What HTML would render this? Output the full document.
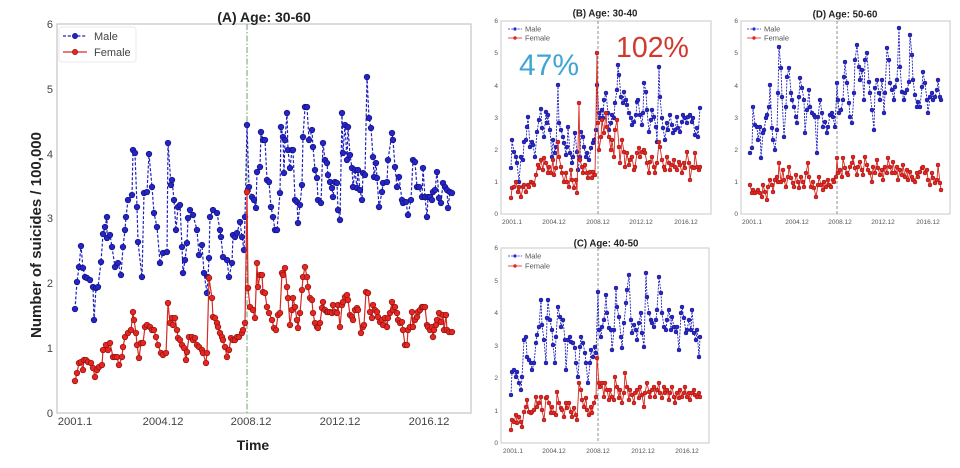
<!DOCTYPE html>
<html><head><meta charset="utf-8"><style>
html,body{margin:0;padding:0;background:#fff;}
svg{display:block;font-family:"Liberation Sans",sans-serif;}
</style></head><body>
<svg width="960" height="468" viewBox="0 0 960 468" xmlns="http://www.w3.org/2000/svg">
<defs>
<marker id="mb" markerUnits="userSpaceOnUse" markerWidth="8" markerHeight="8" refX="4" refY="4"><circle cx="4" cy="4" r="2.8" fill="#2424c8" stroke="#12127a" stroke-width="0.7"/></marker>
<marker id="mr" markerUnits="userSpaceOnUse" markerWidth="8" markerHeight="8" refX="4" refY="4"><circle cx="4" cy="4" r="2.8" fill="#e8261f" stroke="#8a1414" stroke-width="0.7"/></marker>
<marker id="sb" markerUnits="userSpaceOnUse" markerWidth="6" markerHeight="6" refX="3" refY="3"><circle cx="3" cy="3" r="2.0" fill="#2828cc" stroke="#14147a" stroke-width="0.5"/></marker>
<marker id="sr" markerUnits="userSpaceOnUse" markerWidth="6" markerHeight="6" refX="3" refY="3"><circle cx="3" cy="3" r="2.0" fill="#e8261f" stroke="#8a1414" stroke-width="0.5"/></marker>
</defs>
<rect width="960" height="468" fill="#fff"/>

<!-- ============ MAIN (A) ============ -->
<rect x="57" y="24" width="414" height="389" fill="#fff" stroke="#c4c4c4" stroke-width="1.2"/>
<text x="264" y="22" font-size="14" font-weight="bold" text-anchor="middle" fill="#222">(A) Age: 30-60</text>
<g font-size="11" fill="#444" text-anchor="end">
<text x="53" y="417">0</text><text x="53" y="352">1</text><text x="53" y="287">2</text><text x="53" y="222">3</text><text x="53" y="158">4</text><text x="53" y="93">5</text><text x="53" y="28">6</text>
</g>
<g font-size="11.3" fill="#444" text-anchor="middle">
<text x="75" y="425">2001.1</text><text x="163" y="425">2004.12</text><text x="251" y="425">2008.12</text><text x="340" y="425">2012.12</text><text x="429" y="425">2016.12</text>
</g>
<text x="253" y="450" font-size="14" font-weight="bold" text-anchor="middle" fill="#222">Time</text>
<text transform="translate(41,235) rotate(-90)" font-size="15" font-weight="bold" text-anchor="middle" fill="#222">Number of suicides / 100,000</text>
<line x1="247" y1="24" x2="247" y2="413" stroke="#6f9c6f" stroke-width="1" stroke-dasharray="6,2,1.5,2"/>

<polyline fill="none" stroke="#2020c0" stroke-width="1.2" stroke-dasharray="3,1.8" marker-start="url(#mb)" marker-mid="url(#mb)" marker-end="url(#mb)" points="75,309 77,282 79,267 81,246 83,268 85,277 87,278 90,280 93,287 94,320 96,288 98,287 101,262 103,234 105,227 107,217 107,238 110,235 112,247 115,267 118,263 121,275 123,247 125,230 126,217 128,200 132,195 133,150 135,153 137,207 138,242 142,277 144,193 147,192 149,154 152,187 154,213 157,227 160,263 163,253 167,252 168,143 171,185 172,180 174,200 176,230 178,207 180,205 182,247 183,273 185,260 187,243 188,218 190,210 193,215 197,230 199,255 202,245 204,273 207,293 208,277 209,258 210,217 213,210 217,213 220,230 221,237 223,257 227,260 229,277 232,263 233,235 235,237 237,233 240,222 242,237 244,250 245,217 247,125 249,187 252,197 254,200 256,208 257,172 260,167 261,132 263,140 265,140 267,180 269,182 271,207 273,217 275,230 277,230 280,193 281,127 283,137 284,173 285,140 287,113 288,150 290,168 292,150 293,150 295,200 297,202 298,223 300,205 302,185 303,137 305,107 307,107 309,140 312,130 313,147 315,170 317,178 318,200 321,203 323,143 325,160 327,163 328,175 330,182 332,188 333,197 335,182 337,183 338,210 340,220 342,113 343,153 345,125 347,160 348,127 350,155 352,168 353,187 355,170 357,188 358,170 360,190 362,200 363,173 365,175 367,77 369,118 371,128 373,157 374,177 376,163 377,178 379,207 382,192 383,183 387,182 388,160 392,133 393,140 395,167 397,187 399,177 402,200 403,203 406,202 408,215 411,200 413,160 415,162 417,187 419,187 422,197 423,168 425,197 427,217 428,197 430,197 432,200 433,192 435,190 437,172 439,198 441,203 443,183 445,187 447,190 448,208 450,192 452,193"/>

<polyline fill="none" stroke="#d62a22" stroke-width="1.2" marker-start="url(#mr)" marker-mid="url(#mr)" marker-end="url(#mr)" points="75,381 77,373 79,363 81,362 83,370 84,360 86,360 88,362 91,363 93,368 95,377 97,370 99,367 102,365 103,350 106,345 108,350 110,343 113,357 115,357 117,357 119,365 122,357 123,347 125,337 128,333 131,330 133,312 134,320 136,333 137,345 139,358 141,343 143,343 145,327 147,325 150,327 152,330 154,330 156,337 158,345 161,353 163,355 166,353 168,303 170,323 172,318 173,325 175,318 177,330 178,338 180,340 182,345 184,348 186,360 187,352 189,337 192,337 193,340 195,338 197,345 199,347 202,350 203,353 206,363 207,353 209,278 212,298 213,317 215,318 217,323 218,327 220,333 222,337 223,340 225,347 227,357 229,350 231,338 233,340 235,340 237,337 239,337 242,333 243,330 245,323 247,192 248,288 250,307 253,310 255,318 257,263 258,287 260,275 262,275 263,292 265,293 267,307 269,313 272,320 274,328 276,330 278,315 280,313 282,273 283,275 285,268 287,287 288,298 290,325 292,310 293,298 295,307 297,320 298,328 300,313 302,290 303,277 305,267 307,277 308,287 310,298 312,300 313,313 315,323 317,327 318,328 320,323 322,308 323,302 325,310 327,312 328,312 330,312 332,313 333,305 335,312 337,313 338,305 340,327 342,305 343,302 345,297 347,295 348,300 350,315 352,317 353,320 355,310 357,308 358,310 361,333 363,327 364,325 366,292 368,293 370,312 372,318 373,305 375,310 377,312 378,317 380,322 382,320 383,325 385,318 387,327 388,318 390,313 392,302 393,310 395,307 397,313 398,320 400,323 402,322 403,330 405,345 407,345 408,330 410,327 412,312 413,327 415,320 417,317 418,312 420,310 422,307 423,307 425,307 427,325 428,327 430,330 432,327 433,337 434,330 436,325 437,320 439,313 441,322 443,315 444,330 446,315 447,330 449,332 452,332"/>

<rect x="59" y="27" width="77" height="35" rx="3" fill="#fff" fill-opacity="0.85" stroke="#eaeaea" stroke-width="1"/>
<line x1="63" y1="36" x2="87" y2="36" stroke="#2020c0" stroke-width="1.2" stroke-dasharray="3,1.8"/>
<circle cx="75" cy="36" r="2.6" fill="#2424c8" stroke="#12127a" stroke-width="0.7"/>
<line x1="63" y1="52" x2="87" y2="52" stroke="#d62a22" stroke-width="1.2"/>
<circle cx="75" cy="52" r="2.6" fill="#e8261f" stroke="#8a1414" stroke-width="0.7"/>
<text x="94" y="40" font-size="11" fill="#444">Male</text>
<text x="94" y="56" font-size="11" fill="#444">Female</text>

<!-- ============ (B) ============ -->
<rect x="501" y="21" width="210" height="193" fill="#fff" stroke="#c8c8c8" stroke-width="1"/>
<text x="605" y="16.5" font-size="9.7" font-weight="bold" text-anchor="middle" fill="#222">(B) Age: 30-40</text>
<g font-size="6.5" fill="#555" text-anchor="end">
<text x="498" y="216">0</text><text x="498" y="184">1</text><text x="498" y="152">2</text><text x="498" y="120">3</text><text x="498" y="88">4</text><text x="498" y="55">5</text><text x="498" y="23">6</text>
</g>
<g font-size="6.5" fill="#555" text-anchor="middle">
<text x="512" y="224">2001.1</text><text x="554" y="224">2004.12</text><text x="598" y="224">2008.12</text><text x="641" y="224">2012.12</text><text x="686" y="224">2016.12</text>
</g>
<line x1="598" y1="21" x2="598" y2="214" stroke="#777" stroke-width="0.8" stroke-dasharray="3,2"/>
<polyline fill="none" stroke="#2020c0" stroke-width="0.9" stroke-dasharray="2,1.2" marker-start="url(#sb)" marker-mid="url(#sb)" marker-end="url(#sb)" points="511,168 512,140 514,152 516,157 517,163 519,182 521,157 523,160 524,142 526,140 527,127 528,117 530,147 532,142 533,145 535,157 537,132 539,120 541,109 542,128 544,137 546,112 547,123 548,115 550,130 552,157 553,140 555,153 556,147 558,85 559,123 561,130 563,137 564,143 566,155 567,147 568,127 570,153 572,163 573,157 575,133 577,152 578,170 580,157 581,132 583,137 584,147 586,157 587,153 589,160 591,148 593,143 594,140 596,130 597,85 599,113 600,118 602,110 603,118 604,100 606,93 608,113 609,130 611,123 612,115 614,118 615,103 617,90 618,65 619,75 621,97 623,103 624,92 626,100 627,105 629,113 631,118 632,125 634,122 636,115 637,102 638,100 640,115 642,125 643,113 644,83 646,92 647,110 649,132 651,120 652,110 654,117 656,127 657,142 659,67 660,97 662,118 663,128 665,140 667,123 668,130 670,115 672,125 673,133 675,130 677,117 678,128 680,132 682,122 683,115 685,118 687,123 688,117 690,115 692,122 693,118 695,135 697,128 698,137 700,108"/>
<polyline fill="none" stroke="#d62a22" stroke-width="0.9" marker-start="url(#sr)" marker-mid="url(#sr)" marker-end="url(#sr)" points="511,198 512,188 514,187 516,182 518,192 519,187 521,197 523,187 524,185 526,192 528,185 529,187 531,182 533,183 534,185 536,175 538,165 539,168 541,160 543,170 544,158 546,163 548,173 549,167 551,173 553,160 554,175 556,168 558,142 559,157 561,167 562,173 564,182 566,173 567,182 569,187 571,170 572,180 574,188 576,180 577,193 579,103 580,160 582,167 583,173 585,165 587,173 588,178 590,172 592,178 593,172 595,175 597,53 598,123 599,150 601,137 602,120 604,133 606,113 607,127 609,137 611,150 612,140 614,157 615,130 617,120 619,147 620,163 622,140 624,152 625,167 627,153 629,165 630,160 632,157 634,170 635,167 637,153 639,148 640,157 642,152 644,150 645,153 647,163 649,173 650,162 652,157 654,167 655,173 657,163 659,142 660,147 662,160 664,167 665,170 667,157 669,163 670,170 672,165 674,160 675,167 677,170 679,162 680,165 682,173 684,163 685,168 687,152 689,163 690,180 692,167 694,168 695,153 697,167 699,170 700,167"/>
<line x1="508" y1="29" x2="522" y2="29" stroke="#2020c0" stroke-width="0.8" stroke-dasharray="2,1.2"/>
<circle cx="515" cy="29" r="1.6" fill="#2828cc"/>
<line x1="508" y1="38" x2="522" y2="38" stroke="#d62a22" stroke-width="0.8"/>
<circle cx="515" cy="38" r="1.7" fill="#e8261f"/>
<text x="525" y="31.5" font-size="7.5" fill="#555">Male</text>
<text x="525" y="40.5" font-size="7.5" fill="#555">Female</text>
<text x="519" y="75" font-size="30" fill="#41a4d6">47%</text>
<text x="616" y="57" font-size="28.5" fill="#cf3a2c">102%</text>

<!-- ============ (D) ============ -->
<rect x="741" y="21" width="209" height="193" fill="#fff" stroke="#c8c8c8" stroke-width="1"/>
<text x="845" y="17.5" font-size="9.7" font-weight="bold" text-anchor="middle" fill="#222">(D) Age: 50-60</text>
<g font-size="6.5" fill="#555" text-anchor="end">
<text x="738" y="216">0</text><text x="738" y="184">1</text><text x="738" y="152">2</text><text x="738" y="120">3</text><text x="738" y="88">4</text><text x="738" y="55">5</text><text x="738" y="23">6</text>
</g>
<g font-size="6.5" fill="#555" text-anchor="middle">
<text x="752" y="224">2001.1</text><text x="797" y="224">2004.12</text><text x="840" y="224">2008.12</text><text x="883" y="224">2012.12</text><text x="928" y="224">2016.12</text>
</g>
<line x1="837" y1="21" x2="837" y2="214" stroke="#777" stroke-width="0.8" stroke-dasharray="3,2"/>
<polyline fill="none" stroke="#2020c0" stroke-width="0.9" stroke-dasharray="2,1.2" marker-start="url(#sb)" marker-mid="url(#sb)" marker-end="url(#sb)" points="750,153 752,148 753,107 755,125 757,127 758,140 760,127 761,158 763,133 764,130 766,118 767,115 769,107 770,85 772,128 773,140 775,150 777,130 778,93 779,47 781,68 782,97 784,137 786,107 787,77 789,68 791,93 792,100 794,107 796,117 797,123 799,97 800,78 802,88 804,100 805,133 807,110 809,90 810,107 812,113 814,115 815,117 817,153 818,117 820,100 822,113 823,127 825,122 827,133 828,127 830,115 832,113 833,117 835,127 837,83 838,100 839,113 841,110 843,100 844,77 845,62 847,83 849,103 850,117 852,123 854,93 855,60 857,45 859,67 860,80 862,70 864,100 865,60 867,53 869,82 870,93 872,110 874,130 875,88 877,80 879,93 880,100 882,80 884,113 885,93 887,48 889,60 890,83 892,90 894,100 895,87 897,80 899,28 900,67 902,92 904,100 905,93 907,90 909,82 910,35 912,55 913,80 915,95 917,107 918,102 920,107 922,87 923,72 925,83 927,100 928,113 930,97 932,93 933,100 935,97 937,90 938,80 940,97 941,100"/>
<polyline fill="none" stroke="#d62a22" stroke-width="0.9" marker-start="url(#sr)" marker-mid="url(#sr)" marker-end="url(#sr)" points="750,185 752,193 753,190 755,193 757,192 758,190 760,193 762,197 763,185 765,192 767,200 768,187 770,180 772,185 773,192 775,180 777,177 778,182 779,163 781,182 783,170 784,180 786,187 788,177 789,167 791,178 793,183 794,187 796,175 798,182 799,188 801,177 803,182 804,187 806,173 808,163 809,177 811,187 813,182 814,188 816,197 818,185 819,177 821,185 823,190 824,182 826,187 828,180 829,185 831,187 833,180 834,182 836,177 837,158 838,173 840,170 842,177 843,158 845,168 847,173 848,175 850,167 852,163 853,157 855,168 857,175 858,167 860,162 862,170 863,175 865,157 867,165 868,170 870,173 872,182 873,167 875,173 877,160 878,168 880,175 882,170 883,180 885,167 887,173 888,158 890,167 892,173 893,162 895,173 897,167 898,180 900,170 902,175 903,165 905,177 907,170 908,180 910,172 912,177 913,180 915,182 917,173 918,177 920,172 922,168 923,167 925,173 927,170 928,180 930,185 932,173 933,178 935,183 937,180 938,165 940,183 941,190"/>
<line x1="747" y1="29" x2="761" y2="29" stroke="#2020c0" stroke-width="0.8" stroke-dasharray="2,1.2"/>
<circle cx="754" cy="29" r="1.6" fill="#2828cc"/>
<line x1="747" y1="38" x2="761" y2="38" stroke="#d62a22" stroke-width="0.8"/>
<circle cx="754" cy="38" r="1.7" fill="#e8261f"/>
<text x="764" y="31.5" font-size="7.5" fill="#555">Male</text>
<text x="764" y="40.5" font-size="7.5" fill="#555">Female</text>

<!-- ============ (C) ============ -->
<rect x="501" y="248" width="208" height="195" fill="#fff" stroke="#c8c8c8" stroke-width="1"/>
<text x="606" y="246.5" font-size="9.7" font-weight="bold" text-anchor="middle" fill="#222">(C) Age: 40-50</text>
<g font-size="6.5" fill="#555" text-anchor="end">
<text x="498" y="445">0</text><text x="498" y="413">1</text><text x="498" y="380">2</text><text x="498" y="348">3</text><text x="498" y="315">4</text><text x="498" y="283">5</text><text x="498" y="250">6</text>
</g>
<g font-size="6.5" fill="#555" text-anchor="middle">
<text x="513" y="453">2001.1</text><text x="554" y="453">2004.12</text><text x="598" y="453">2008.12</text><text x="643" y="453">2012.12</text><text x="687" y="453">2016.12</text>
</g>
<line x1="598" y1="248" x2="598" y2="443" stroke="#777" stroke-width="0.8" stroke-dasharray="3,2"/>
<polyline fill="none" stroke="#2020c0" stroke-width="0.9" stroke-dasharray="2,1.2" marker-start="url(#sb)" marker-mid="url(#sb)" marker-end="url(#sb)" points="511,395 512,372 514,370 516,377 517,372 519,383 521,390 522,377 524,340 526,337 527,357 529,360 531,363 532,370 534,363 536,343 537,335 539,327 541,300 542,325 544,340 546,363 547,318 548,300 550,320 552,330 553,345 555,363 556,337 558,307 560,317 561,327 563,320 565,340 566,370 568,340 570,337 571,342 573,343 575,348 576,363 578,377 580,347 581,337 583,343 585,353 586,363 588,383 590,363 591,350 593,357 595,347 596,353 598,292 599,330 601,337 602,327 604,320 606,295 607,313 609,328 611,330 612,350 614,330 616,288 617,307 619,317 621,337 622,348 624,323 626,303 627,290 629,275 631,320 632,333 634,325 636,330 637,340 639,323 641,313 642,333 644,347 646,273 647,297 649,313 651,320 652,323 654,327 656,320 657,310 659,277 661,293 662,313 664,327 666,330 667,320 669,310 671,330 672,317 674,327 676,332 677,327 679,350 681,313 682,307 684,318 686,333 687,330 689,320 691,330 692,310 694,333 696,340 697,330 699,357 700,337"/>
<polyline fill="none" stroke="#d62a22" stroke-width="0.9" marker-start="url(#sr)" marker-mid="url(#sr)" marker-end="url(#sr)" points="511,430 512,420 514,422 516,415 517,423 519,417 521,422 522,427 524,412 526,407 527,400 529,412 531,413 532,412 534,410 536,397 537,407 539,403 541,397 542,410 544,420 546,398 547,397 549,403 551,413 552,407 554,413 556,415 557,392 559,403 561,408 562,410 564,417 566,403 567,408 569,403 571,412 572,417 574,408 576,415 577,420 579,383 581,390 582,400 584,407 586,398 587,410 589,415 591,407 592,413 594,403 596,397 597,358 599,383 600,387 602,383 604,397 605,383 607,390 609,400 610,390 612,397 614,400 615,377 617,387 619,398 620,390 622,403 624,393 625,373 627,387 629,400 630,390 632,395 634,403 635,393 637,390 639,398 640,387 642,395 644,407 645,393 647,383 649,392 650,397 652,390 654,387 655,397 657,390 659,383 660,393 662,398 664,387 665,393 667,390 669,400 670,393 672,387 674,397 675,403 677,393 679,398 680,390 682,397 684,393 685,387 687,397 689,393 690,400 692,393 694,390 695,395 697,397 699,393 700,397"/>
<line x1="508" y1="256" x2="522" y2="256" stroke="#2020c0" stroke-width="0.8" stroke-dasharray="2,1.2"/>
<circle cx="515" cy="256" r="1.6" fill="#2828cc"/>
<line x1="508" y1="266" x2="522" y2="266" stroke="#d62a22" stroke-width="0.8"/>
<circle cx="515" cy="266" r="1.7" fill="#e8261f"/>
<text x="525" y="258.5" font-size="7.5" fill="#555">Male</text>
<text x="525" y="268.5" font-size="7.5" fill="#555">Female</text>
</svg>
</body></html>
